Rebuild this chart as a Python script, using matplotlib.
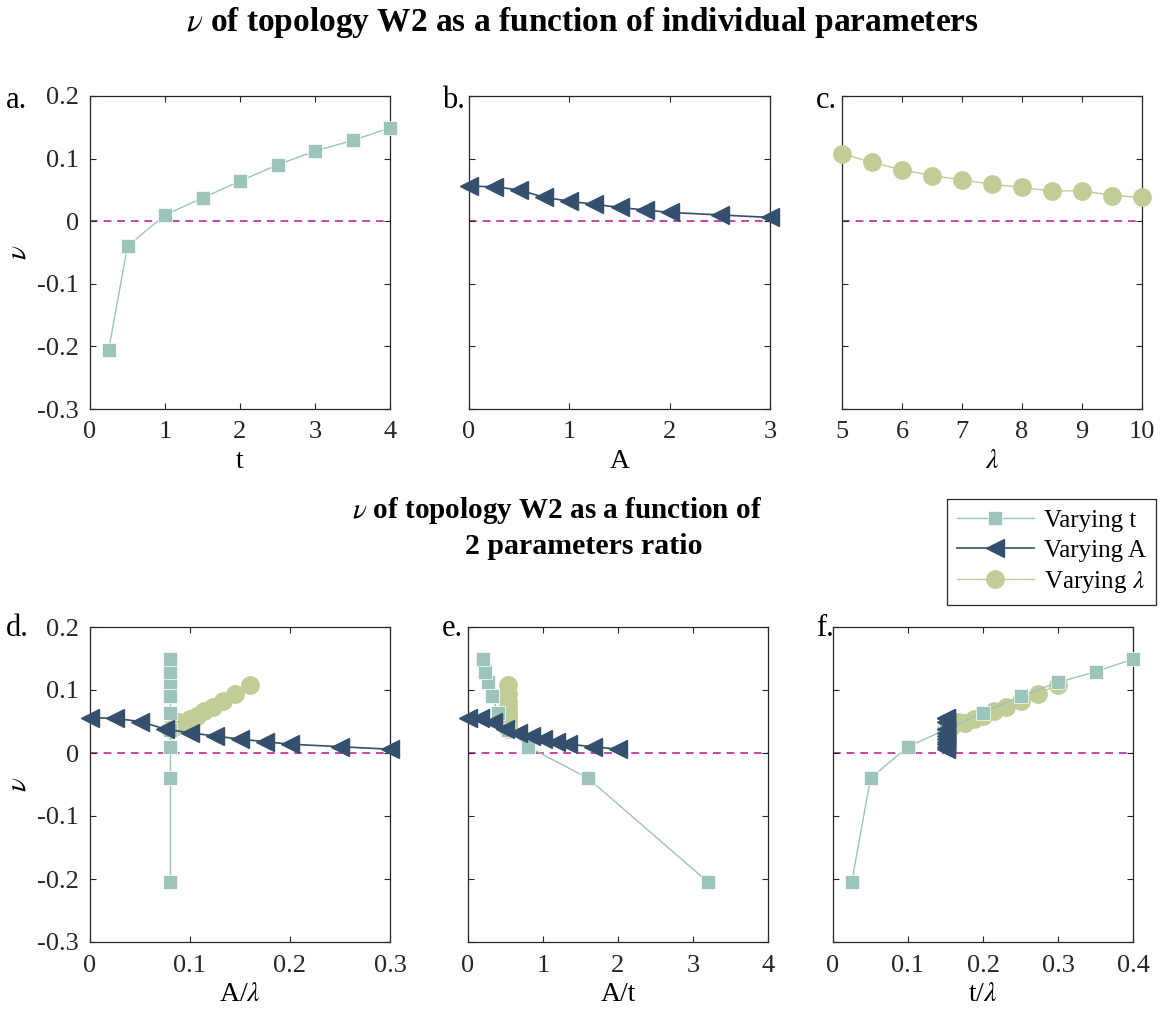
import matplotlib.pyplot as plt
import numpy as np

plt.rcParams['font.family'] = ['Liberation Serif', 'DejaVu Serif']
plt.rcParams['mathtext.fontset'] = 'stix'

# baseline parameters (held fixed while another one is varied)
t0, A0, lam0 = 1.5, 0.8, 10.0

t_vals = np.array([0.25, 0.5, 1, 1.5, 2, 2.5, 3, 3.5, 4])
nu_t = np.array([-0.205, -0.040, 0.010, 0.037, 0.064, 0.090, 0.112, 0.129, 0.149])

A_vals = np.array([0, 0.25, 0.5, 0.75, 1.0, 1.25, 1.5, 1.75, 2.0, 2.5, 3.0])
nu_A = np.array([0.056, 0.055, 0.050, 0.038, 0.032, 0.027, 0.022, 0.018, 0.014, 0.010, 0.006])

lam_vals = np.array([5, 5.5, 6, 6.5, 7, 7.5, 8, 8.5, 9, 9.5, 10])
nu_lam = np.array([0.108, 0.094, 0.082, 0.073, 0.066, 0.059, 0.054, 0.048, 0.049, 0.041, 0.038])

c_t, c_A, c_lam = '#9cc4bb', '#34506e', '#c1cd97'
c_zero = '#cc44aa'

sq = dict(marker='s', color=c_t, lw=1.0, ms=10, mec='white', mew=0.5)
tri = dict(marker='<', color=c_A, lw=1.2, ms=13.5, mec=c_A)
circ = dict(marker='o', color=c_lam, lw=1.0, ms=12.5, mec=c_lam)

fig = plt.figure(figsize=(11.6, 10.19), dpi=100)
W, H = 1160, 1019


def add_ax(l, r, top, bot):
    return fig.add_axes([l / W, 1 - bot / H, (r - l) / W, (bot - top) / H])


def style(ax, xlim, xticks, xlabel, ylabels):
    ax.set_xlim(*xlim)
    ax.set_ylim(-0.3, 0.2)
    ax.set_xticks(xticks)
    ax.set_yticks([-0.3, -0.2, -0.1, 0, 0.1, 0.2])
    ax.set_xticklabels([f'{v:g}' for v in xticks])
    if ylabels:
        ax.set_yticklabels(['-0.3', '-0.2', '-0.1', '0', '0.1', '0.2'])
        ax.set_ylabel(r'$\nu$', fontsize=21, labelpad=4)
    else:
        ax.set_yticklabels([])
    ax.set_xlabel(xlabel, fontsize=20, labelpad=4)
    ax.tick_params(direction='in', top=True, right=True, length=4, width=0.8,
                   labelsize=19, colors='#262626')
    ax.tick_params(axis='x', pad=9)
    ax.tick_params(axis='y', pad=8)
    for s in ax.spines.values():
        s.set_linewidth(0.9)
        s.set_color('#262626')
    ax.axhline(0, color=c_zero, ls=(0, (4, 3)), lw=1.4, zorder=1)


def draw(ax, xt, xa, xl):
    ax.plot(xl, nu_lam, zorder=3, **circ)
    ax.plot(xt, nu_t, zorder=4, **sq)
    ax.plot(xa, nu_A, zorder=5, **tri)


# top row
ax_a = add_ax(90, 390, 96, 409)
ax_a.plot(t_vals, nu_t, zorder=4, **sq)
style(ax_a, (0, 4), [0, 1, 2, 3, 4], 't', True)

ax_b = add_ax(469, 770, 96, 409)
ax_b.plot(A_vals, nu_A, zorder=5, **tri)
style(ax_b, (0, 3), [0, 1, 2, 3], 'A', False)

ax_c = add_ax(842, 1142, 96, 409)
ax_c.plot(lam_vals, nu_lam, zorder=3, **circ)
style(ax_c, (5, 10), [5, 6, 7, 8, 9, 10], r'$\lambda$', False)

# bottom row: ratios
ax_d = add_ax(90, 390, 627, 942)
draw(ax_d, np.full_like(t_vals, A0 / lam0), A_vals / lam0, A0 / lam_vals)
style(ax_d, (0, 0.3), [0, 0.1, 0.2, 0.3], r'A/$\lambda$', True)

ax_e = add_ax(468, 768, 627, 942)
draw(ax_e, A0 / t_vals, A_vals / t0, np.full_like(lam_vals, A0 / t0))
style(ax_e, (0, 4), [0, 1, 2, 3, 4], 'A/t', False)

ax_f = add_ax(833, 1133, 627, 942)
draw(ax_f, t_vals / lam0, np.full_like(A_vals, t0 / lam0), t0 / lam_vals)
style(ax_f, (0, 0.4), [0, 0.1, 0.2, 0.3, 0.4], r't/$\lambda$', False)

for ax in (ax_a, ax_b, ax_c, ax_d, ax_e, ax_f):
    for ln in ax.lines:
        ln.set_clip_on(False)

# panel letters
for lab, x, y in [('a.', 6, 100), ('b.', 442, 100), ('c.', 816, 100),
                  ('d.', 6, 628), ('e.', 442, 628), ('f.', 816, 628)]:
    fig.text(x / W, 1 - y / H, lab, fontsize=22, ha='left', va='center')

fig.text(582 / W, 1 - 22 / H, r'$\nu$ of topology W2 as a function of individual parameters',
         fontsize=24, fontweight='bold', ha='center', va='center')
fig.text(557 / W, 1 - 510 / H, r'$\nu$ of topology W2 as a function of',
         fontsize=21, fontweight='bold', ha='center', va='center')
fig.text(584 / W, 1 - 547 / H, '2 parameters ratio',
         fontsize=21.5, fontweight='bold', ha='center', va='center')

handles = [
    plt.Line2D([], [], **sq),
    plt.Line2D([], [], **tri),
    plt.Line2D([], [], **circ),
]
leg = fig.legend(handles, ['Varying t', 'Varying A', r'Varying $\lambda$'],
                 loc='upper right', bbox_to_anchor=(1156 / W, 1 - 499 / H),
                 fontsize=18, handlelength=3.1, labelspacing=0.3, borderpad=0.4,
                 handletextpad=0.4, borderaxespad=0, fancybox=False, framealpha=1,
                 edgecolor='#262626')
leg.get_frame().set_linewidth(0.9)

fig.savefig('out.png', dpi=100)
